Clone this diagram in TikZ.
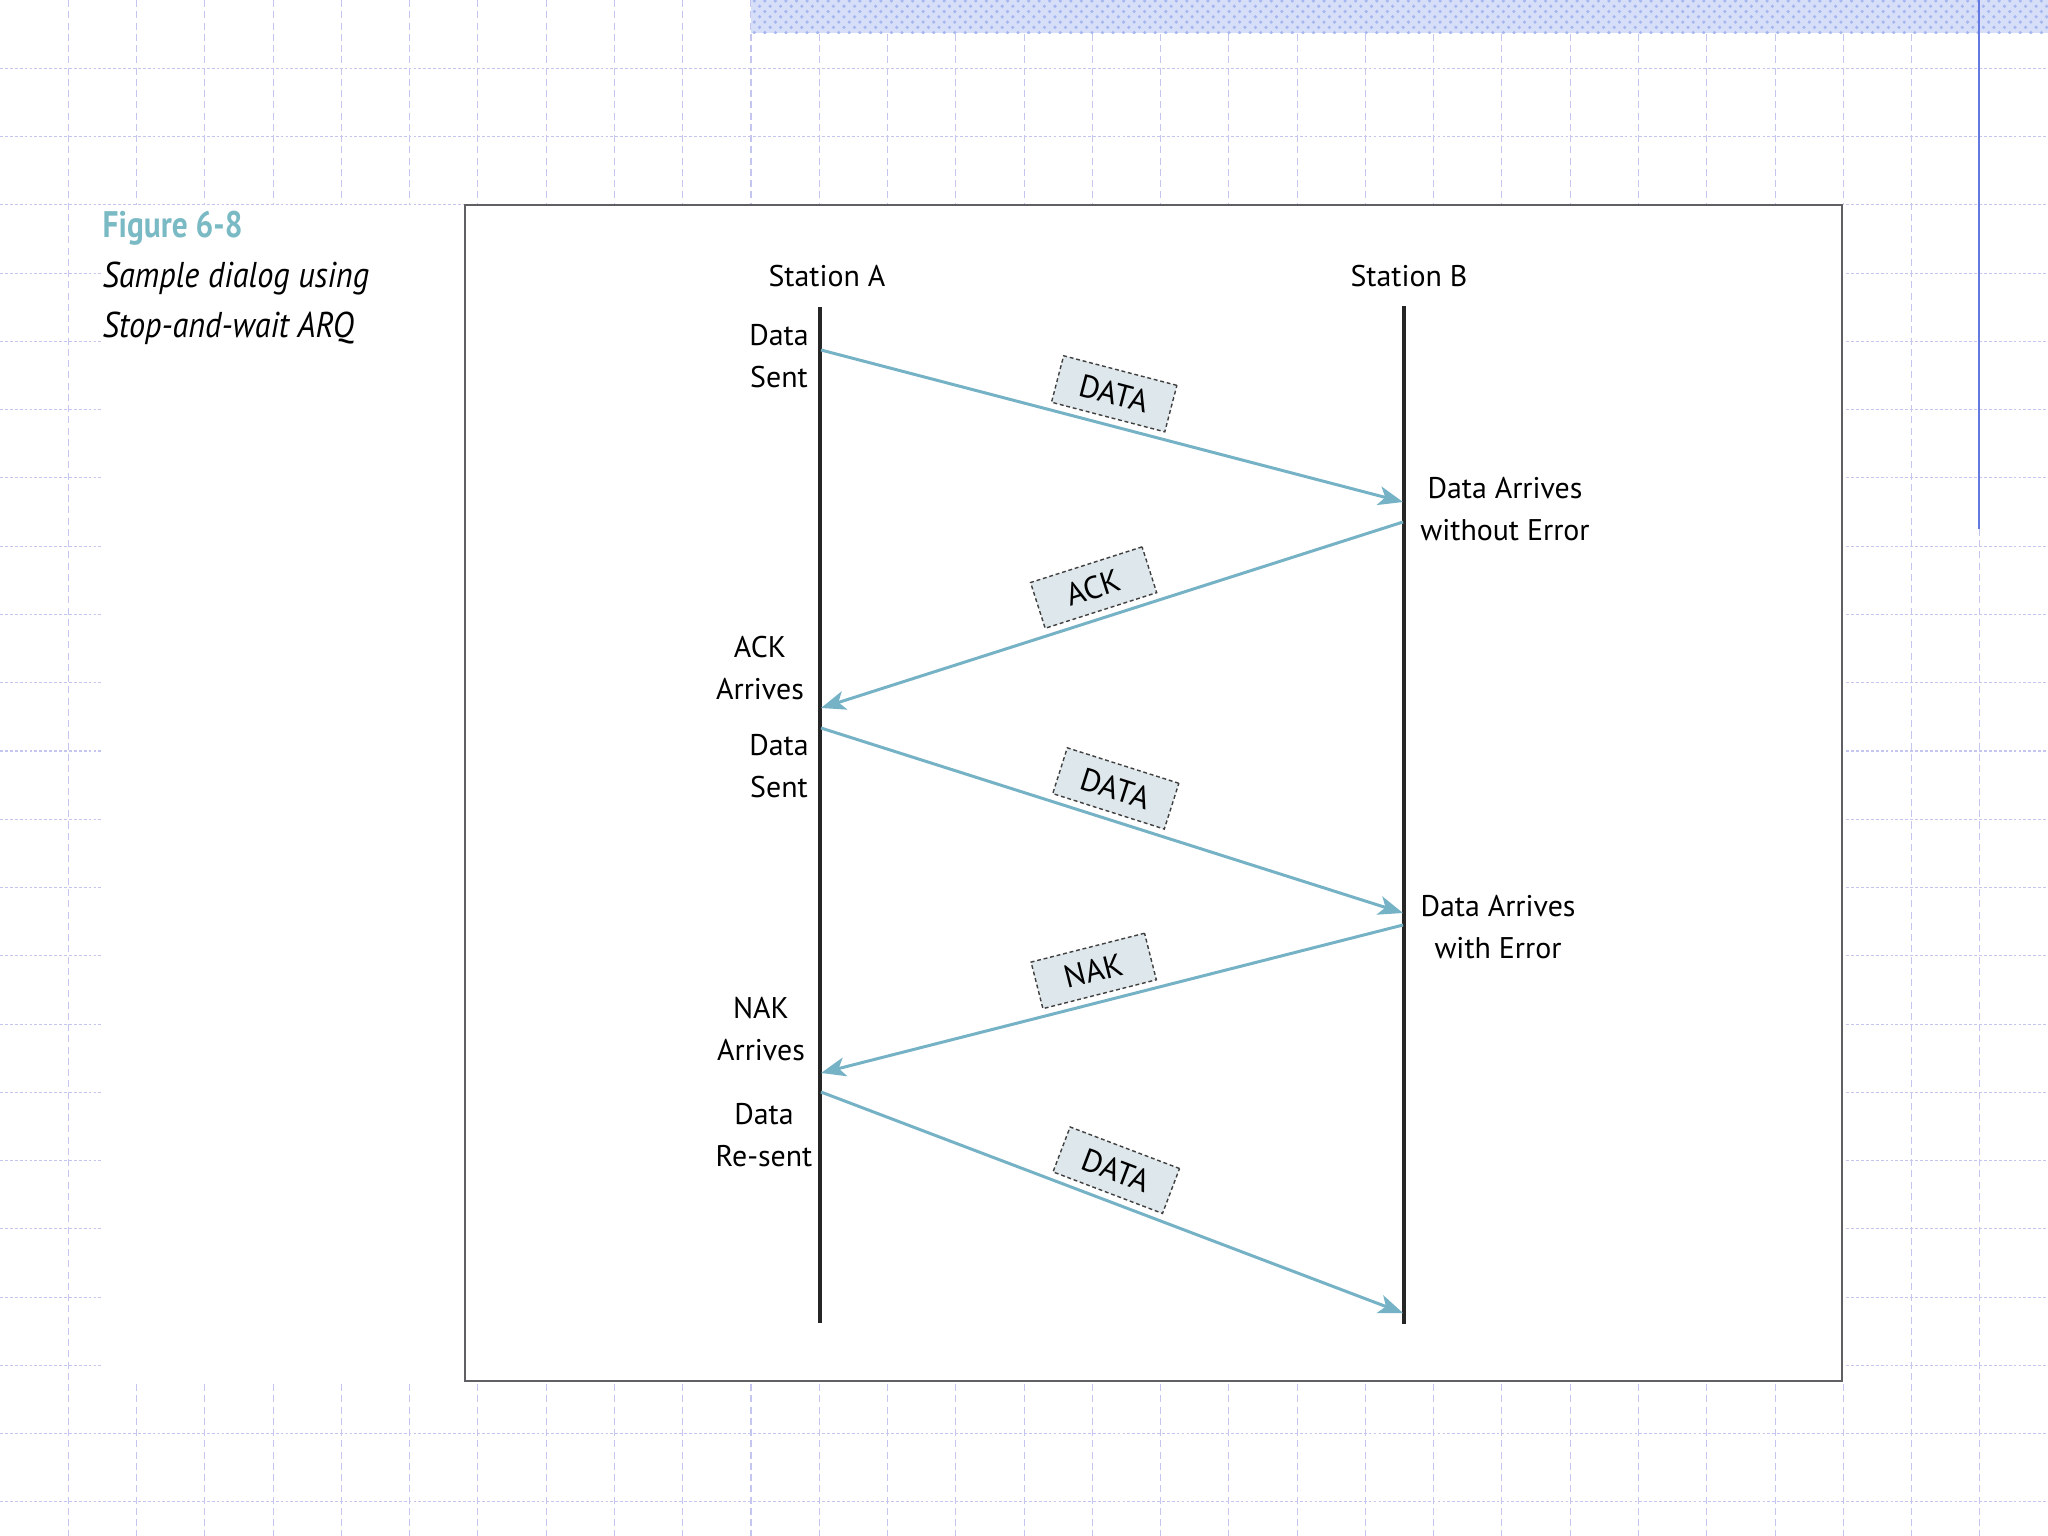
\documentclass[tikz,border=0pt]{standalone}
\usepackage{fontspec}
\setmainfont{PT Sans}
\newfontfamily\capfont[FakeStretch=0.85]{PT Sans}
\newfontfamily\capitfont[FakeStretch=0.9]{PT Sans}
\usetikzlibrary{arrows.meta,patterns}
\definecolor{gridc}{RGB}{196,198,240}
\definecolor{arrc}{RGB}{118,178,198}
\definecolor{boxf}{RGB}{222,231,235}
\definecolor{capc}{RGB}{122,186,196}
\definecolor{bandc}{RGB}{214,222,248}
\definecolor{banddot}{RGB}{165,182,240}
\definecolor{bluel}{RGB}{100,120,225}
\definecolor{frame}{RGB}{95,95,100}
\begin{document}
\begin{tikzpicture}[x=0.01cm,y=-0.01cm,
  gridv/.style={gridc, line width=0.3pt, dash pattern=on 2pt off 1.2pt},
  gridh/.style={gridc, line width=0.3pt, dash pattern=on 0.8pt off 0.6pt},
  lbl/.style={inner sep=0pt, align=center, font=\fontsize{8.5}{12}\selectfont},
  captxt/.style={inner sep=0pt, anchor=base west},
  life/.style={black!85, line width=1pt},
  msg/.style={arrc, line width=0.85pt, -{Stealth[length=7pt,width=5.4pt,inset=1.8pt]}},
  pkt/.style={sloped, above=0.07cm, draw=black!75, line width=0.4pt,
    dash pattern=on 1.1pt off 0.8pt, fill=boxf, inner sep=0pt, text=black,
    minimum width=1.17cm, minimum height=0.48cm,
    font=\fontsize{9}{10}\selectfont}]
\useasboundingbox (0,0) rectangle (2048,1536);
\fill[white] (0,0) rectangle (2048,1536);
% background grid
\foreach \k in {1,...,29} \draw[gridv] ({\k*68.27},0) -- ({\k*68.27},1536);
\foreach \k in {1,...,22} \draw[gridh] (0,{\k*68.27}) -- (2048,{\k*68.27});
% top band
\fill[bandc] (751,0) rectangle (2048,33);
\fill[pattern=crosshatch dots, pattern color=banddot] (751,0) rectangle (2048,33);
\draw[bluel, line width=0.6pt] (1979,0) -- (1979,529);
% white area and figure frame
\fill[white] (102,205) rectangle (1844,1382);
\draw[frame, line width=0.6pt] (465,205) rectangle (1842,1381);
% caption
\node[captxt, font=\capfont\bfseries\fontsize{10.5}{12}\selectfont, text=capc] (cap1) at (102,237) {Figure 6-8};
\node[captxt, font=\capitfont\itshape\fontsize{10.2}{12}\selectfont] (cap2) at (102,287) {Sample dialog using};
\node[captxt, font=\capitfont\itshape\fontsize{10.2}{12}\selectfont] (cap3) at (102,337) {Stop-and-wait ARQ};
% stations
\node[lbl, anchor=base] (sa) at (827,286) {Station A};
\node[lbl, anchor=base] (sb) at (1409,286) {Station B};
% lifelines
\coordinate (at) at (820,307);
\coordinate (ab) at (820,1323);
\coordinate (bt) at (1404,306);
\coordinate (bb) at (1404,1324);
\draw[life, line width=1.15pt] (at) -- (ab);
\draw[life] (bt) -- (bb);
% message end points
\coordinate (a1) at (821,350);
\coordinate (b1) at (1403,502);
\coordinate (b2) at (1403,522);
\coordinate (a2) at (821,708);
\coordinate (a3) at (821,728);
\coordinate (b3) at (1403,913);
\coordinate (b4) at (1403,925);
\coordinate (a4) at (821,1073);
\coordinate (a5) at (821,1092);
\coordinate (b5) at (1403,1313);
% messages
\draw[msg] (a1) -- node[pkt, pos=0.49] (p1) {DATA} (b1);
\draw[msg] (b2) -- node[pkt, pos=0.515] (p2) {ACK} (a2);
\draw[msg] (a3) -- node[pkt, pos=0.49] (p3) {DATA} (b3);
\draw[msg] (b4) -- node[pkt, pos=0.518] (p4) {NAK} (a4);
\draw[msg] (a5) -- node[pkt, pos=0.488] (p5) {DATA} (b5);
% station A labels
\node[lbl] (l1) at (779,356) {Data\\Sent};
\node[lbl] (l2) at (760,668) {ACK\\Arrives};
\node[lbl] (l3) at (779,766) {Data\\Sent};
\node[lbl] (l4) at (761,1029) {NAK\\Arrives};
\node[lbl] (l5) at (764,1135) {Data\\Re-sent};
% station B labels
\node[lbl] (r1) at (1505,509) {Data Arrives\\without Error};
\node[lbl] (r2) at (1498,927) {Data Arrives\\with Error};
\end{tikzpicture}
\end{document}
